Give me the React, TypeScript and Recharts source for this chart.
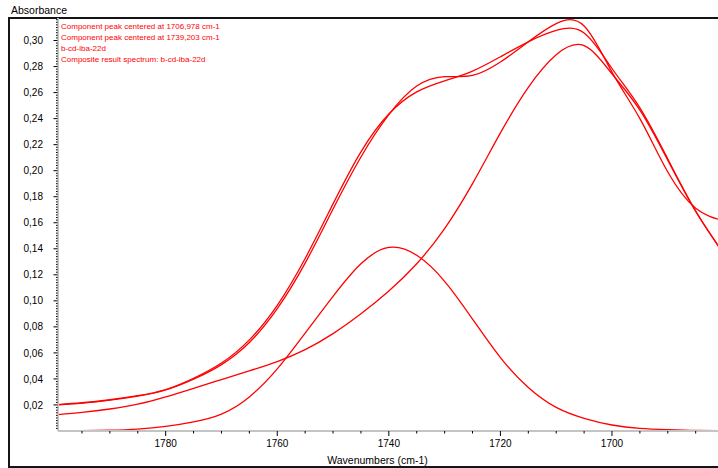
import { LineChart, Line, XAxis, YAxis } from 'recharts';

// wavenumbers (cm-1), left to right
const wavenumbers = [
  1800, 1795, 1790, 1785, 1780, 1775, 1770, 1765, 1760, 1755, 1750, 1745, 1740,
  1735, 1730, 1725, 1720, 1715, 1710, 1705, 1700, 1695, 1690, 1685, 1680,
];

// b-cd-iba-22d (measured)
const measured = [
  0.0198, 0.0214, 0.0237, 0.0268, 0.0315, 0.0398, 0.051, 0.068, 0.094, 0.129, 0.1705, 0.2105, 0.243,
  0.265, 0.2722, 0.2732, 0.2835, 0.299, 0.313, 0.3112, 0.2757, 0.24, 0.199, 0.1712, 0.1615,
];

// Composite result spectrum
const composite = [
  0.0201, 0.0217, 0.024, 0.0271, 0.0318, 0.0405, 0.0522, 0.07, 0.0965, 0.1325, 0.1745, 0.2145, 0.2435,
  0.2605, 0.269, 0.2765, 0.2875, 0.299, 0.3077, 0.3058, 0.2785, 0.2483, 0.209, 0.169, 0.1365,
];

// Component peak centered at 1706,978
const peak1707 = [
  0.0123, 0.0143, 0.0169, 0.0206, 0.0262, 0.0328, 0.0395, 0.0462, 0.0533, 0.0625, 0.0748, 0.09, 0.1075,
  0.1285, 0.1555, 0.19, 0.229, 0.264, 0.289, 0.296, 0.2744, 0.2465, 0.208, 0.1687, 0.1363,
];

// Component peak centered at 1739,203
const peak1739 = [
  0.0001, 0.0002, 0.0006, 0.0015, 0.0035, 0.007, 0.013, 0.0262, 0.0477, 0.0752, 0.1035, 0.1285, 0.141,
  0.135, 0.115, 0.086, 0.0564, 0.0334, 0.0181, 0.0097, 0.0046, 0.002, 0.001, 0.0004, 0.0002,
];

const legendLines = [
  'Component peak centered at 1706,978 cm-1',
  'Component peak centered at 1739,203 cm-1',
  'b-cd-iba-22d',
  'Composite result spectrum: b-cd-iba-22d',
];

const xMajor = [1780, 1760, 1740, 1720, 1700];
const yMajor = [0.02, 0.04, 0.06, 0.08, 0.1, 0.12, 0.14, 0.16, 0.18, 0.2, 0.22, 0.24, 0.26, 0.28, 0.3];

// minor tick marks: every 5 cm-1 and every 0.002
const xTicks = Array.from({ length: 23 }, (_, i) => 1685 + i * 5);
const yTicks = Array.from({ length: 158 }, (_, i) => +((i + 1) * 0.002).toFixed(3));

const data = wavenumbers.map((w, i) => ({
  w,
  measured: measured[i],
  composite: composite[i],
  p1: peak1707[i],
  p2: peak1739[i],
}));

const FONT = '"Liberation Sans", Arial, sans-serif';
const RED = '#ff0000';

const XTick = (props: any) => {
  const { x, y, payload } = props;
  const major = xMajor.includes(payload.value);
  return (
    <g>
      <line x1={x} x2={x} y1={y} y2={y + (major ? 5 : 2.5)} stroke="#000" strokeWidth={1} />
      {major && (
        <text x={x} y={y + 16} textAnchor="middle" fontSize={10} fill="#000" fontFamily={FONT}>
          {payload.value}
        </text>
      )}
    </g>
  );
};

const YTick = (props: any) => {
  const { x, y, payload } = props;
  const major = yMajor.some((m) => Math.abs(m - payload.value) < 1e-6);
  return (
    <g>
      <line x1={x - (major ? 4.5 : 2)} x2={x - 0.5} y1={y} y2={y} stroke="#000" strokeWidth={1} />
      {major && (
        <text x={x - 15} y={y + 3.6} textAnchor="end" fontSize={10} fill="#000" fontFamily={FONT}>
          {payload.value.toFixed(2).replace('.', ',')}
        </text>
      )}
    </g>
  );
};

export default function App() {
  return (
    <div
      style={{
        position: 'fixed',
        left: 0,
        top: 0,
        width: 718,
        height: 468,
        overflow: 'hidden',
        background: '#fff',
        fontFamily: FONT,
      }}
    >
      <div style={{ position: 'absolute', left: 11, top: 4, fontSize: 10.5, lineHeight: '12px', color: '#000' }}>
        Absorbance
      </div>

      {/* outer frame */}
      <div
        style={{
          position: 'absolute',
          left: 8,
          top: 17,
          width: 740,
          height: 451,
          boxSizing: 'border-box',
          border: '2px solid #151515',
        }}
      />

      <div style={{ position: 'absolute', left: 0, top: 0 }}>
        <LineChart width={718} height={468} data={data} margin={{ top: 18, right: 0, bottom: 0, left: 0 }}>
          <XAxis
            dataKey="w"
            type="number"
            domain={[1681, 1799.3]}
            reversed
            allowDataOverflow
            ticks={xTicks}
            interval={0}
            height={37}
            tickSize={0}
            tickMargin={0}
            tickLine={false}
            axisLine={{ stroke: '#c4c4c4', strokeWidth: 2 }}
            tick={<XTick />}
          />
          <YAxis
            type="number"
            domain={[0, 0.3173]}
            allowDataOverflow
            ticks={yTicks}
            interval={0}
            width={58}
            tickSize={0}
            tickMargin={0}
            tickLine={false}
            axisLine={{ stroke: '#c4c4c4', strokeWidth: 2 }}
            tick={<YTick />}
          />
          <Line type="natural" dataKey="p2" stroke={RED} strokeWidth={1.3} dot={false} isAnimationActive={false} />
          <Line type="natural" dataKey="p1" stroke={RED} strokeWidth={1.3} dot={false} isAnimationActive={false} />
          <Line type="natural" dataKey="measured" stroke={RED} strokeWidth={1.3} dot={false} isAnimationActive={false} />
          <Line type="natural" dataKey="composite" stroke={RED} strokeWidth={1.3} dot={false} isAnimationActive={false} />
        </LineChart>
      </div>

      {/* legend, top-left inside the plot */}
      <div style={{ position: 'absolute', left: 61, top: 20.5, fontSize: 8, lineHeight: '11.3px', color: RED, whiteSpace: 'nowrap' }}>
        {legendLines.map((t) => (
          <div key={t}>{t}</div>
        ))}
      </div>

      <div
        style={{
          position: 'absolute',
          left: 377.5,
          top: 454,
          transform: 'translateX(-50%)',
          fontSize: 10.5,
          lineHeight: '12px',
          color: '#000',
          whiteSpace: 'nowrap',
        }}
      >
        Wavenumbers (cm-1)
      </div>
    </div>
  );
}
